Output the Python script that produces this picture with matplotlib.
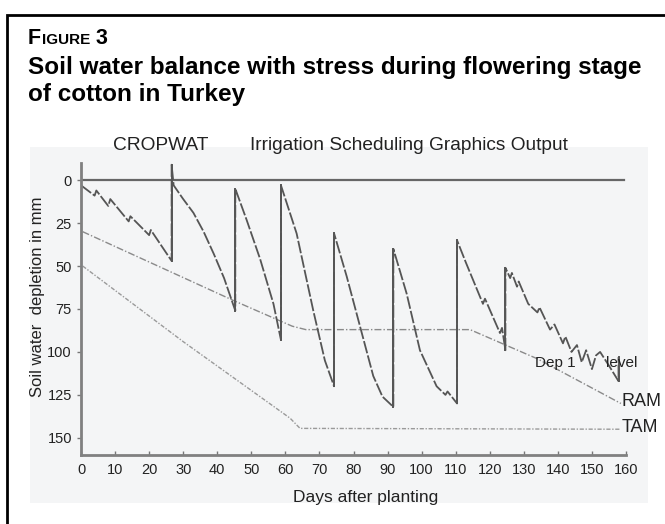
import numpy as np
import matplotlib
matplotlib.use("Agg")
import matplotlib.pyplot as plt
from matplotlib.patches import Rectangle

plt.rcParams['font.family'] = ['Liberation Sans', 'DejaVu Sans']

# depletion curve (Dep 1), days after planting / mm
dep_days = [0, 4, 4.5, 8, 8.6, 14, 14.5, 20, 20.5, 26.6, 26.6, 27.2, 30, 33, 36, 39, 42, 45.3,
            45.3, 48.6, 52.6, 56.5, 58.7, 58.7, 63.3, 68.2, 71.6, 74.3, 74.3, 78, 81.9, 85.8,
            88.5, 91.7, 91.7, 95.6, 99.5, 104.4, 107, 107.6, 110.4, 110.4, 113, 118, 118.6,
            123, 123.6, 124.6, 124.6, 126, 126.5, 128, 128.5, 131.3, 134, 134.6, 137.7, 139,
            141.5, 142.2, 144, 145.6, 147, 148.3, 150, 151.2, 152.4, 155, 157.8, 157.8]
dep_mm = [3, 9, 6, 15, 11, 24, 21, 32, 29, 47, -9, 3, 11, 19, 30, 43, 57, 76,
          5, 23, 46, 72, 93, 3, 31, 76, 105, 120, 31, 56, 85, 114,
          126, 132, 40, 66, 99, 120, 125, 123, 130, 35, 48, 72, 69,
          89, 86, 99, 51, 57, 54, 62, 59, 72, 77, 74, 87, 84,
          95, 91, 100, 96, 106, 99, 110, 102, 100, 108, 117, 103]

ram_days = [0.5, 44.7, 62, 66, 114.2, 134, 158.5]
ram_mm = [30, 70, 85, 87, 87, 104, 130]

tam_days = [0.5, 30, 61.4, 64.3, 158.5]
tam_mm = [50, 94, 138.6, 144.5, 145]

xticks = list(range(0, 161, 10))
yticks = [0, 25, 50, 75, 100, 125, 150]

fig = plt.figure(figsize=(6.65, 5.24), dpi=100)

# light grey panel behind the chart and the black frame of the figure box
fig.patches.append(Rectangle((30/665, 1-503/524), 618/665, 356/524, transform=fig.transFigure,
                             facecolor='#f4f5f6', edgecolor='none', zorder=-5))
fig.patches.append(Rectangle((7/665, -0.05), 1.2, 1.05 - 15/524, transform=fig.transFigure,
                             facecolor='none', edgecolor='black', linewidth=2.0, zorder=-4,
                             clip_on=False))

# title block
r = fig.canvas.get_renderer()
t1 = fig.text(28/665, 1-43.5/524, 'F', fontsize=15.5, fontweight='bold')
x = t1.get_window_extent(r).x1 / 665 + 0.001
t2 = fig.text(x, 1-43.5/524, 'IGURE', fontsize=11, fontweight='bold')
x = t2.get_window_extent(r).x1 / 665
fig.text(x, 1-43.5/524, ' 3', fontsize=15.5, fontweight='bold')
fig.text(28/665, 1-74/524, 'Soil water balance with stress during flowering stage',
         fontsize=17.5, fontweight='bold')
fig.text(28/665, 1-101.5/524, 'of cotton in Turkey', fontsize=17.5, fontweight='bold')
fig.text(113/665, 1-150/524, 'CROPWAT', fontsize=13.8, color='#222222')
fig.text(250/665, 1-150/524, 'Irrigation Scheduling Graphics Output', fontsize=13.8,
         color='#222222')

ax = fig.add_axes([81/665, 1-455/524, 545/665, 292/524])
ax.set_facecolor('none')

ax.plot([0, 159.5], [0, 0], color='#666666', lw=1.6)
ax.plot(tam_days, tam_mm, color='#9a9a9a', lw=1.0, linestyle=(0, (3, 1.2, 1, 1.2)))
ax.plot(ram_days, ram_mm, color='#8a8a8a', lw=1.0, linestyle=(0, (5, 1.5, 1, 1.5)))
ax.plot(dep_days, dep_mm, color='#555555', lw=1.3, linestyle=(0, (7, 1.2)))
# irrigation refills drawn solid
for i in range(1, len(dep_days)):
    if dep_days[i] == dep_days[i-1]:
        ax.plot(dep_days[i-1:i+1], dep_mm[i-1:i+1], color='#555555', lw=1.4)

ax.text(133.3, 106.5, 'Dep 1', fontsize=11, va='center', color='#222222')
ax.text(154.0, 106.5, 'level', fontsize=11, va='center', color='#222222')
ax.text(158.6, 129, 'RAM', fontsize=13, va='center', color='#222222', clip_on=False)
ax.text(158.6, 144, 'TAM', fontsize=13, va='center', color='#222222', clip_on=False)

ax.set_xlim(0, 160)
ax.set_ylim(160, -10)
ax.set_xticks(xticks)
ax.set_yticks(yticks)
ax.tick_params(axis='both', labelsize=10.5, colors='#777777', labelcolor='#222222',
               length=3, width=1)
ax.tick_params(axis='x', direction='in', pad=6)
for side in ['top', 'right']:
    ax.spines[side].set_visible(False)
for side in ['left', 'bottom']:
    ax.spines[side].set_color('#808080')
    ax.spines[side].set_linewidth(2)

ax.set_xlabel('Days after planting', fontsize=12.5, color='#222222', va='center')
ax.xaxis.set_label_coords(0.523, -0.144)
ax.set_ylabel('Soil water  depletion in mm', fontsize=12, color='#222222', va='center')
ax.yaxis.set_label_coords(-0.079, 0.541)

fig.savefig('out.png', dpi=100)
